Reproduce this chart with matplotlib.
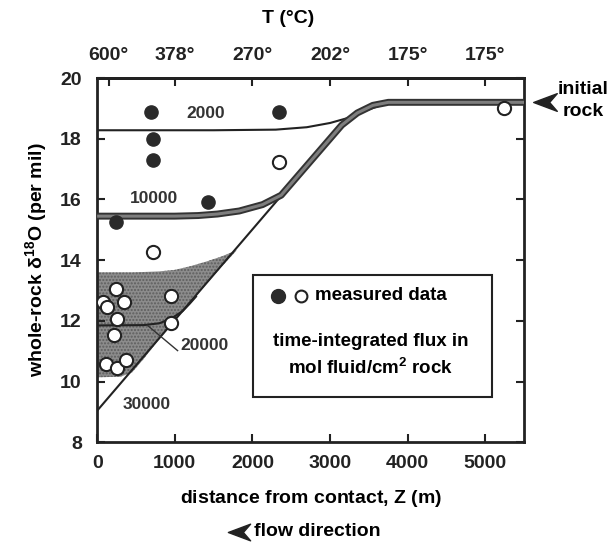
import matplotlib
matplotlib.use("Agg")
import matplotlib.pyplot as plt
from matplotlib.path import Path
from matplotlib.lines import Line2D

plt.rcParams['font.family'] = ['Liberation Sans', 'DejaVu Sans']
plt.rcParams['font.weight'] = 'bold'
plt.rcParams['mathtext.fontset'] = 'custom'
plt.rcParams['mathtext.rm'] = 'Liberation Sans:bold'
plt.rcParams['mathtext.it'] = 'Liberation Sans:italic:bold'
plt.rcParams['mathtext.bf'] = 'Liberation Sans:bold'
plt.rcParams['mathtext.default'] = 'rm'

# ---- data ----
filled_x = [693, 2348, 714, 714, 1424, 241]
filled_y = [18.89, 18.89, 18.0, 17.29, 15.92, 15.26]

open_x = [2348, 714, 241, 69, 130, 348, 262, 951, 219, 951, 112, 262, 370, 5240]
open_y = [17.24, 14.27, 13.06, 12.62, 12.45, 12.62, 12.07, 12.81, 11.52, 11.93, 10.58, 10.45, 10.72, 19.0]

# model curves (time-integrated flux, mol fluid/cm2 rock)
c2000_x = [0, 1500, 2300, 2700, 3000, 3250, 3450, 3650, 3850, 5500]
c2000_y = [18.28, 18.28, 18.3, 18.38, 18.52, 18.7, 18.92, 19.1, 19.2, 19.2]

c10000_x = [0, 1000, 1300, 1550, 1830, 2130, 2370, 3150, 3350, 3550, 3750, 5500]
c10000_y = [15.45, 15.45, 15.47, 15.52, 15.62, 15.83, 16.14, 18.45, 18.85, 19.1, 19.2, 19.2]

c20000_x = [0, 600, 800, 950, 1100, 1190, 1273]
c20000_y = [11.85, 11.86, 11.92, 12.07, 12.32, 12.56, 12.8]

c30000_x = [0, 3150, 3350, 3550, 3750, 5500]
c30000_y = [9.04, 18.45, 18.85, 19.1, 19.2, 19.2]

band_x = [0, 300, 450, 600, 800, 1000, 1200, 1400, 1600, 1800]
band_lo = [10.14, 10.16, 10.3, 10.75, 11.4, 12.0, 12.6, 13.2, 13.78, 14.33]
band_hi = [13.6, 13.6, 13.6, 13.61, 13.63, 13.68, 13.8, 13.95, 14.12, 14.33]

curve_labels = ['2000', '10000', '20000', '30000']
label_x = [1400, 730, 1380, 640]
label_y = [18.83, 16.04, 11.19, 9.26]

bottom_ticks = [0, 1000, 2000, 3000, 4000, 5000]
top_tick_pos = [150, 1000, 2000, 3000, 4000, 5000]
top_tick_labels = ['600°', '378°', '270°', '202°', '175°', '175°']
y_ticks = [8, 10, 12, 14, 16, 18, 20]

# ---- figure ----
fig = plt.figure(figsize=(6.11, 5.42), dpi=100)
ax = fig.add_axes([0.159, 0.184, 0.699, 0.672])
ax.set_xlim(0, 5500)
ax.set_ylim(8, 20)

ax.fill_between(band_x, band_lo, band_hi, facecolor='#8c8c8c', edgecolor='#5e5e5e',
                hatch='.....', linewidth=0, zorder=1)

ax.plot(c30000_x, c30000_y, color='#222222', lw=1.5, zorder=2)
ax.plot(c2000_x, c2000_y, color='#222222', lw=1.5, zorder=2)
ax.plot(c20000_x, c20000_y, color='#222222', lw=1.5, zorder=2)
ax.plot(c10000_x, c10000_y, color='#333333', lw=5, solid_capstyle='butt', zorder=3)
ax.plot(c10000_x, c10000_y, color='#7e7e7e', lw=2.2, solid_capstyle='butt', zorder=3)

ax.plot(filled_x, filled_y, 'o', ms=9.5, mfc='#2a2a2a', mec='#2a2a2a', zorder=5)
ax.plot(open_x, open_y, 'o', ms=9.5, mfc='white', mec='#222222', mew=1.5, zorder=5)

for t, lx, ly in zip(curve_labels, label_x, label_y):
    ax.text(lx, ly, t, ha='center', va='center', fontsize=12.5, fontweight='bold', color='#333333', zorder=6)
# leader for 20000
ax.plot([649, 1036], [11.85, 11.02], color='#333333', lw=1, zorder=4)

for s in ax.spines.values():
    s.set_linewidth(2)
    s.set_color('#222222')

ax.set_xticks(bottom_ticks)
ax.set_xticklabels([str(v) for v in bottom_ticks])
ax.set_yticks(y_ticks)
ax.tick_params(axis='both', direction='in', length=6, width=1.5, labelsize=14, pad=9,
               right=True, colors='#222222')
ax.tick_params(axis='y', pad=11)
for lbl in ax.get_xticklabels() + ax.get_yticklabels():
    lbl.set_fontweight('bold')

ax2 = ax.secondary_xaxis('top')
ax2.set_xticks(top_tick_pos)
ax2.set_xticklabels(top_tick_labels)
ax2.tick_params(direction='in', length=6, width=1.5, labelsize=14, pad=10, colors='#222222')
for lbl in ax2.get_xticklabels():
    lbl.set_fontweight('bold')
ax2.spines['top'].set_linewidth(2)

ax.set_xlabel('distance from contact, $Z$ (m)', fontsize=14, fontweight='bold', labelpad=12)
ax.set_ylabel(r'whole-rock $\delta^{18}$O (per mil)', fontsize=14, fontweight='bold', labelpad=8)
fig.text(0.471, 0.965, 'T (°C)', ha='center', va='center', fontsize=14, fontweight='bold')

# legend box
ax.add_patch(plt.Rectangle((2004, 9.48), 3076, 4.02, fill=False, lw=1.5, ec='#222222', zorder=6))
ax.plot([2330], [12.82], 'o', ms=10, mfc='#2a2a2a', mec='#2a2a2a', zorder=7)
ax.plot([2620], [12.82], 'o', ms=8.5, mfc='white', mec='#222222', mew=1.5, zorder=7)
ax.text(2800, 12.82, 'measured data', ha='left', va='center', fontsize=13.5, fontweight='bold', zorder=7)
ax.text(3520, 11.33, 'time-integrated flux in', ha='center', va='center', fontsize=13.5, fontweight='bold', zorder=7)
ax.text(3520, 10.45, 'mol fluid/cm$^{2}$ rock', ha='center', va='center', fontsize=13.5, fontweight='bold', zorder=7)

# arrow heads
arrow = Path([(-1.0, 0.0), (1.0, 0.75), (0.35, 0.0), (1.0, -0.75), (-1.0, 0.0)],
             [Path.MOVETO, Path.LINETO, Path.LINETO, Path.LINETO, Path.CLOSEPOLY])
fig.add_artist(Line2D([545 / 611], [1 - 102 / 542], marker=arrow, ms=17, color='#222222',
                      mec='#222222', transform=fig.transFigure))
fig.text(583 / 611, 1 - 90 / 542, 'initial', ha='center', va='center', fontsize=14, fontweight='bold')
fig.text(583 / 611, 1 - 111 / 542, 'rock', ha='center', va='center', fontsize=14, fontweight='bold')

fig.add_artist(Line2D([239 / 611], [1 - 532 / 542], marker=arrow, ms=16, color='#222222',
                      mec='#222222', transform=fig.transFigure))
fig.text(254 / 611, 1 - 532 / 542, 'flow direction', ha='left', va='center', fontsize=14, fontweight='bold')

fig.savefig('out.png', dpi=100)
